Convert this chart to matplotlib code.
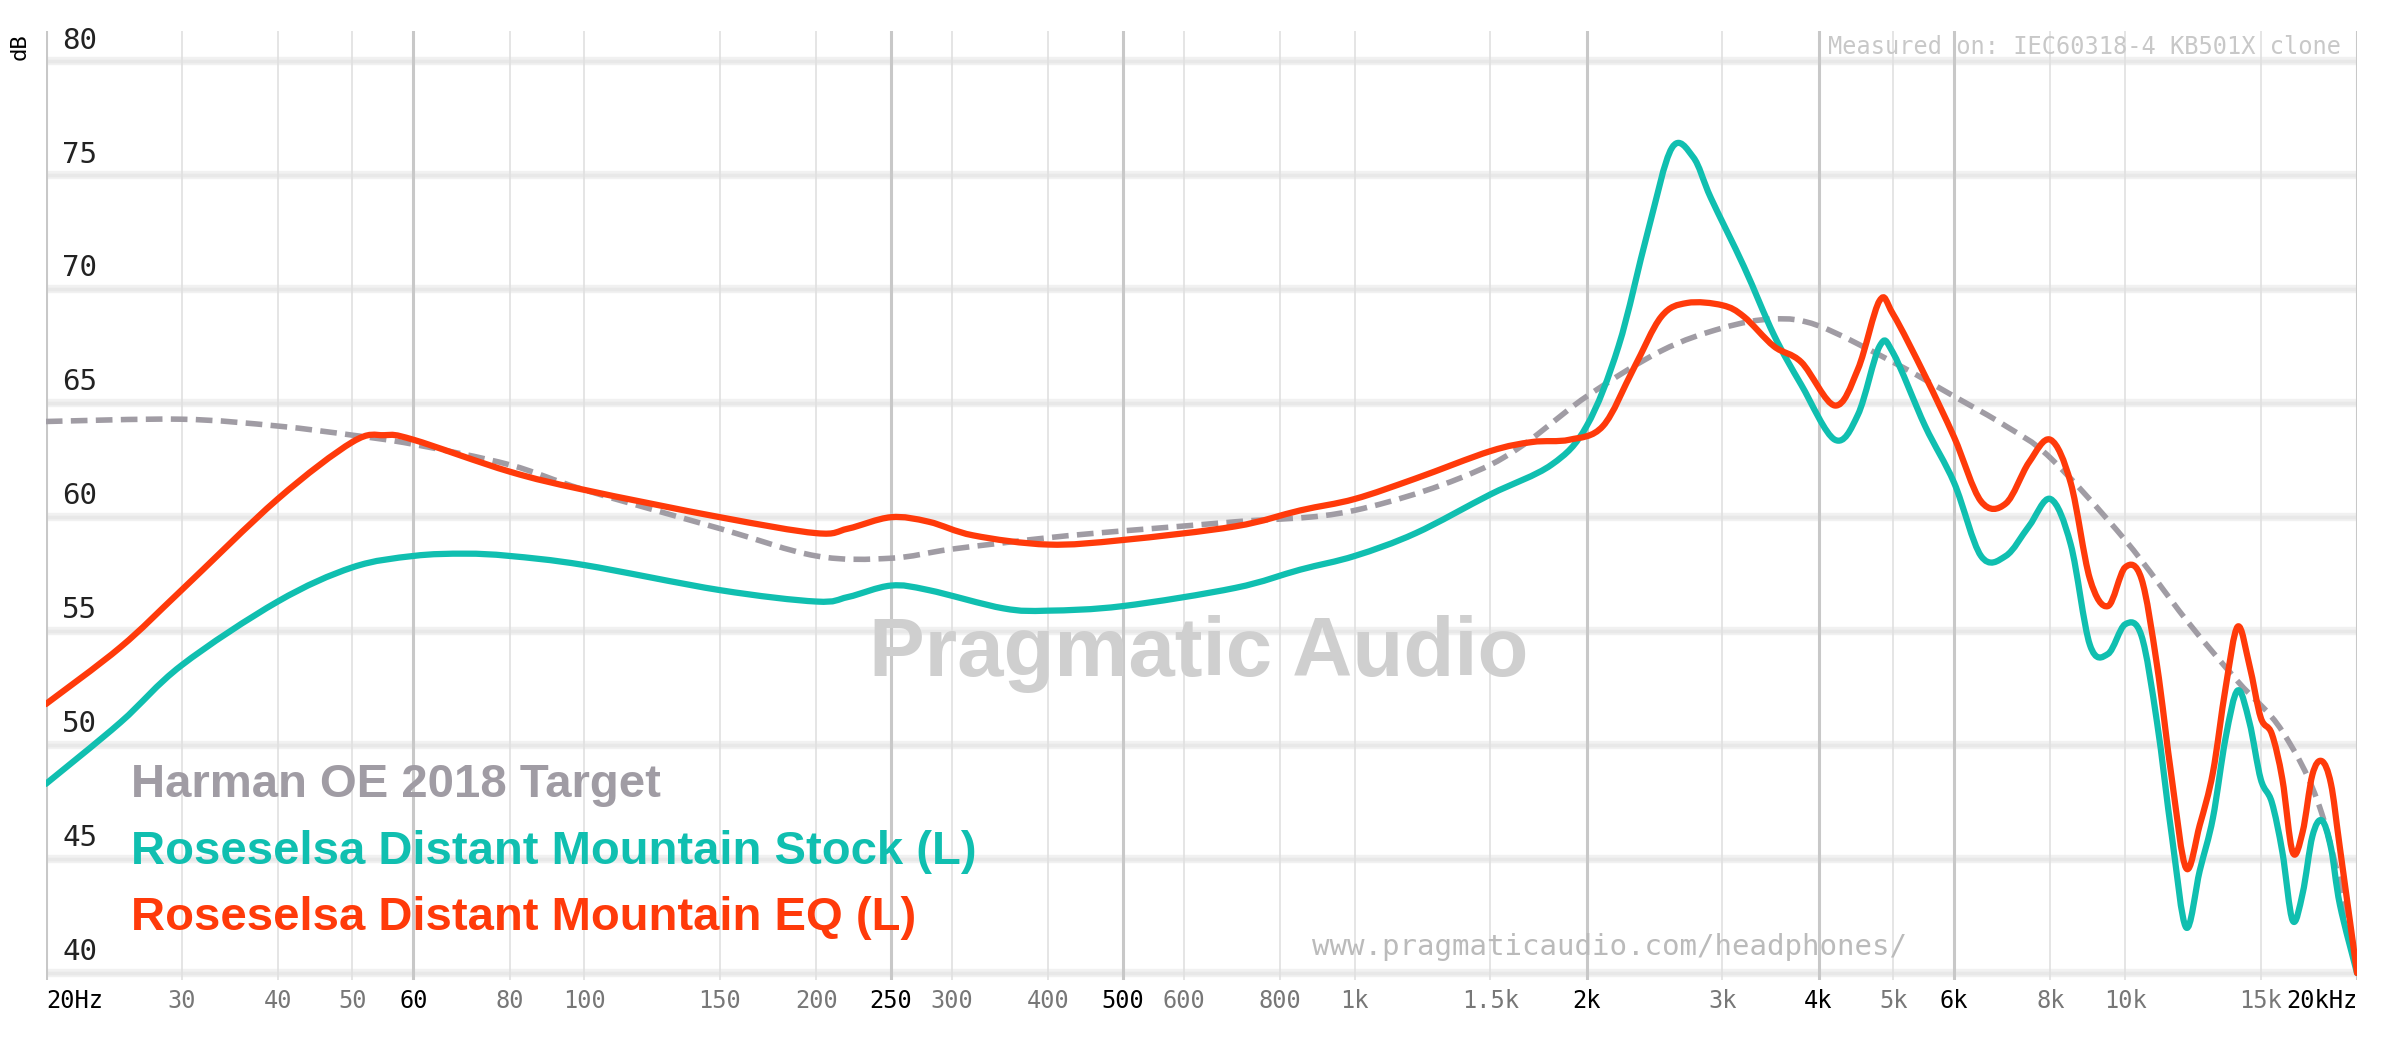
import matplotlib
matplotlib.use("Agg")
import matplotlib.pyplot as plt
from matplotlib.path import Path
from matplotlib.patches import PathPatch
import numpy as np

harman_f = [20,30,40,50,60,80,100,150,200,250,300,400,500,700,1000,1500,2000,2500,3000,3500,4000,5000,6000,7000,8000,10000,12000,14000,16000,18000,20000]
harman_db = [64.2,64.3,64.0,63.6,63.2,62.3,61.2,59.5,58.3,58.2,58.6,59.1,59.4,59.8,60.3,62.3,65.3,67.3,68.3,68.7,68.4,66.8,65.3,64.0,62.6,59.0,55.5,52.8,50.6,47.0,40.5]

stock_f = [20,25,30,40,50,60,70,80,100,150,200,220,250,280,350,400,500,700,850,1000,1200,1500,1800,2000,2200,2400,2580,2750,2900,3200,3500,3800,4200,4500,4800,5000,5500,6000,6500,7000,7500,8000,8500,9000,9500,10000,10500,11000,11500,12000,12500,13000,13500,14000,14500,15000,15500,16000,16500,17000,17500,18000,18500,19000,20000]
stock_db = [48.3,51.0,53.5,56.3,57.8,58.3,58.4,58.3,57.9,56.8,56.3,56.5,57.0,56.8,56.0,55.9,56.1,56.9,57.7,58.3,59.3,61.0,62.3,64.0,67.5,72.5,76.2,75.8,74.0,71.0,68.0,65.8,63.4,64.5,67.5,67.2,64.0,61.5,58.3,58.3,59.6,60.8,58.8,54.4,54.0,55.3,54.8,51.0,46.0,42.0,44.5,46.8,50.3,52.4,51.0,48.5,47.5,45.3,42.3,43.5,46.0,46.7,45.5,43.0,40.0]

eq_f = [20,25,30,40,50,55,60,80,100,150,200,220,250,280,320,400,500,700,850,1000,1200,1500,1700,1900,2100,2300,2500,2700,3000,3200,3500,3800,4200,4500,4800,5000,5500,6000,6500,7000,7500,8000,8500,9000,9500,10000,10500,11000,11500,12000,12500,13000,13500,14000,14500,15000,15500,16000,16500,17000,17500,18000,18500,19000,20000]
eq_db = [51.8,54.3,56.8,60.8,63.3,63.6,63.4,62.0,61.2,60.0,59.3,59.5,60.0,59.8,59.2,58.8,59.0,59.6,60.3,60.8,61.7,62.9,63.3,63.4,64.0,66.5,68.8,69.4,69.3,68.8,67.5,66.8,64.9,66.5,69.5,68.9,66.2,63.5,60.7,60.6,62.4,63.4,61.5,57.3,56.1,57.8,57.3,53.5,48.5,44.6,46.5,48.8,52.5,55.2,53.5,51.2,50.5,48.5,45.3,46.2,48.7,49.3,48.3,45.5,40.0]

tick_f = [20,30,40,50,60,80,100,150,200,250,300,400,500,600,800,1000,1500,2000,3000,4000,5000,6000,8000,10000,15000,20000]
tick_lbl = ["20Hz","30","40","50","60","80","100","150","200","250","300","400","500","600","800","1k","1.5k","2k","3k","4k","5k","6k","8k","10k","15k","20kHz"]
major_f = [20,60,250,500,2000,4000,6000,20000]
y_ticks = [40,45,50,55,60,65,70,75,80]

def smooth_path(f, d):
    # Catmull-Rom rendered as cubic Bezier segments (in log-frequency space)
    x = np.log10(np.asarray(f, float)); y = np.asarray(d, float)
    n = len(x)
    verts = [(x[0], y[0])]; codes = [Path.MOVETO]
    for i in range(n - 1):
        x0, y0 = (x[i-1], y[i-1]) if i > 0 else (x[i], y[i])
        x3, y3 = (x[i+2], y[i+2]) if i + 2 < n else (x[i+1], y[i+1])
        c1 = (x[i] + (x[i+1]-x0)/6, y[i] + (y[i+1]-y0)/6)
        c2 = (x[i+1] - (x3-x[i])/6, y[i+1] - (y3-y[i])/6)
        verts += [c1, c2, (x[i+1], y[i+1])]
        codes += [Path.CURVE4]*3
    verts = [(10**vx, vy) for vx, vy in verts]
    return Path(verts, codes)

fig = plt.figure(figsize=(24,10.38), dpi=100)
ax = fig.add_axes([0.0191, 0.056, 0.963, 0.9145])
ax.set_xscale("log")
ax.set_xlim(20, 20000)
ax.set_ylim(39.7, 81.35)
for s in ax.spines.values():
    s.set_visible(False)
ax.set_xticks([]); ax.set_yticks([])
ax.minorticks_off()

for y in y_ticks:
    ax.axhline(y, color="#f1f1f1", lw=6, zorder=0)
    ax.axhline(y, color="#e8e8e8", lw=2.5, zorder=0)
    ax.text(21.0, y+0.3, str(y), fontsize=21, family="DejaVu Sans Mono", color="#222", va="bottom", ha="left")
for f, l in zip(tick_f, tick_lbl):
    maj = f in major_f
    ax.axvline(f, color="#c8c8c8" if maj else "#e0e0e0", lw=2.2 if maj else 1.2, zorder=0)
    ha = "left" if f == 20 else ("right" if f == 20000 else "center")
    ax.text(f, 39.3, l, fontsize=17, family="DejaVu Sans Mono", color="#000" if maj else "#777",
            ha=ha, va="top", clip_on=False)
fig.text(0.008, 0.955, "dB", rotation=90, fontsize=16, family="DejaVu Sans Mono", va="center", ha="center")

ax.text(627, 54.0, "Pragmatic Audio", fontsize=60, family="Liberation Sans", weight="bold",
        color="#cfcfcf", ha="center", va="center", zorder=1)
ax.text(0.993, 0.995, "Measured on: IEC60318-4 KB501X clone", transform=ax.transAxes, fontsize=17,
        family="DejaVu Sans Mono", color="#c8c8c8", ha="right", va="top")
ax.text(0.548, 0.035, "www.pragmaticaudio.com/headphones/", transform=ax.transAxes, fontsize=21,
        family="DejaVu Sans Mono", color="#bbbbbb", ha="left", va="center")

ax.add_patch(PathPatch(smooth_path(harman_f, harman_db), fill=False, edgecolor="#a09ca4", lw=4,
                       ls=(0,(3,1.5)), zorder=3))
ax.add_patch(PathPatch(smooth_path(stock_f, stock_db), fill=False, edgecolor="#10bfb0", lw=4.5,
                       zorder=4, joinstyle="round", capstyle="round"))
ax.add_patch(PathPatch(smooth_path(eq_f, eq_db), fill=False, edgecolor="#ff3a0a", lw=4.5,
                       zorder=5, joinstyle="round", capstyle="round"))

for y, t, c in [(0.205, "Harman OE 2018 Target", "#a09ca4"),
                (0.135, "Roseselsa Distant Mountain Stock (L)", "#10bfb0"),
                (0.065, "Roseselsa Distant Mountain EQ (L)", "#ff3a0a")]:
    ax.text(0.037, y, t, transform=ax.transAxes, fontsize=34, family="Liberation Sans",
            weight="bold", color=c, ha="left", va="center", zorder=6)

fig.savefig("out.png", dpi=100, facecolor="white")
